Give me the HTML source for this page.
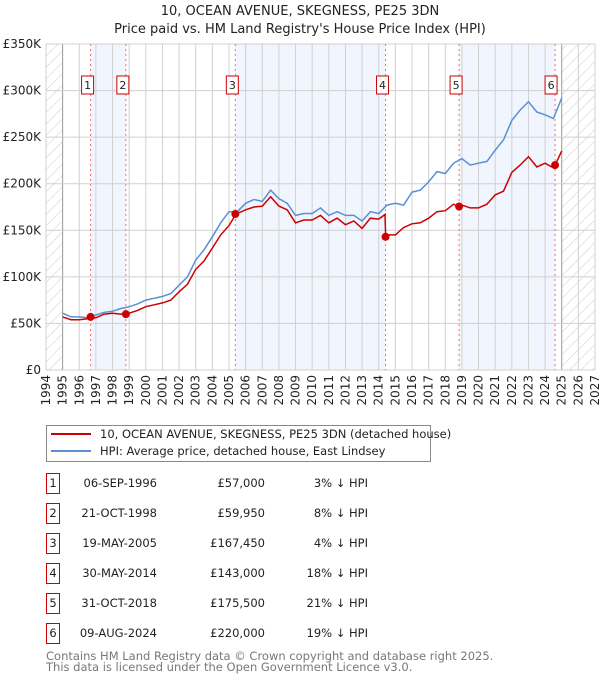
<!DOCTYPE html>
<html><head><meta charset="utf-8"><style>
body{margin:0;background:#fff;font-family:"DejaVu Sans","Liberation Sans",sans-serif;}
svg text{font-family:"DejaVu Sans","Liberation Sans",sans-serif;}
</style></head><body>
<svg id="chart" width="600" height="680" xmlns="http://www.w3.org/2000/svg">
<defs><pattern id="hatch" width="8" height="8" patternUnits="userSpaceOnUse" patternTransform="rotate(45)"><line x1="0" y1="0" x2="0" y2="8" stroke="#ccc" stroke-width="1"/></pattern></defs>
<text x="300" y="15" text-anchor="middle" font-size="13" fill="#222">10, OCEAN AVENUE, SKEGNESS, PE25 3DN</text>
<text x="300" y="33" text-anchor="middle" font-size="13" fill="#222">Price paid vs. HM Land Registry's House Price Index (HPI)</text>
<g id="plot"></g>
<g>
<rect x="46.5" y="425.5" width="384" height="36" fill="#fff" stroke="#888"/>
<line x1="51" y1="434" x2="91" y2="434" stroke="#cc0000" stroke-width="2"/>
<text x="100" y="438" font-size="11.5" fill="#222">10, OCEAN AVENUE, SKEGNESS, PE25 3DN (detached house)</text>
<line x1="51" y1="451" x2="91" y2="451" stroke="#5b8fd4" stroke-width="2"/>
<text x="100" y="455" font-size="11.5" fill="#222">HPI: Average price, detached house, East Lindsey</text>
</g>
<g id="table"></g>
<text x="46" y="660" font-size="11.5" fill="#777">Contains HM Land Registry data © Crown copyright and database right 2025.</text>
<text x="46" y="671" font-size="11.5" fill="#777">This data is licensed under the Open Government Licence v3.0.</text>
</svg>
<script>
const hpiYears=[1995,1995.5,1996,1996.5,1997,1997.5,1998,1998.5,1999,1999.5,2000,2000.5,2001,2001.5,2002,2002.5,2003,2003.5,2004,2004.5,2005,2005.5,2006,2006.5,2007,2007.5,2008,2008.5,2009,2009.5,2010,2010.5,2011,2011.5,2012,2012.5,2013,2013.5,2014,2014.5,2015,2015.5,2016,2016.5,2017,2017.5,2018,2018.5,2019,2019.5,2020,2020.5,2021,2021.5,2022,2022.5,2023,2023.5,2024,2024.5,2025];
const hpiValues=[61,57,57,56,59,62,63,66,68,71,75,77,79,82,91,100,118,129,143,158,170,170,179,183,181,193,184,179,166,168,168,174,166,170,166,166,160,170,168,177,179,177,191,193,202,213,211,222,227,220,222,224,236,247,268,279,288,277,274,270,292];
const redYears=[1995,1995.5,1996,1996.5,1997,1997.5,1998,1998.5,1999,1999.5,2000,2000.5,2001,2001.5,2002,2002.5,2003,2003.5,2004,2004.5,2005,2005.4,2005.5,2006,2006.5,2007,2007.5,2008,2008.5,2009,2009.5,2010,2010.5,2011,2011.5,2012,2012.5,2013,2013.5,2014,2014.38,2014.42,2014.5,2015,2015.5,2016,2016.5,2017,2017.5,2018,2018.5,2018.83,2019,2019.5,2020,2020.5,2021,2021.5,2022,2022.5,2023,2023.5,2024,2024.5,2024.6,2025];
const redValues=[57,54,54,55,56,60,61,60,61,64,68,70,72,75,84,92,108,117,131,145,155,167,168,172,175,176,186,176,172,158,161,161,166,158,163,156,160,152,163,162,167,143,145,145,153,157,158,163,170,171,178,175,177,174,174,178,188,192,212,220,229,218,222,217,220,235];
const saleYears=[1996.68,1998.8,2005.38,2014.41,2018.83,2024.6];
const saleLabels=["1","2","3","4","5","6"];
const saleDates=["06-SEP-1996","21-OCT-1998","19-MAY-2005","30-MAY-2014","31-OCT-2018","09-AUG-2024"];
const salePrices=[57000,59950,167450,143000,175500,220000];
const saleDiffs=["3% ↓ HPI","8% ↓ HPI","4% ↓ HPI","18% ↓ HPI","21% ↓ HPI","19% ↓ HPI"];
const yTicks=[0,50,100,150,200,250,300,350];
const xTicks=[1994,1995,1996,1997,1998,1999,2000,2001,2002,2003,2004,2005,2006,2007,2008,2009,2010,2011,2012,2013,2014,2015,2016,2017,2018,2019,2020,2021,2022,2023,2024,2025,2026,2027];

const L=46,R=595,T=44,B=370;
const x=v=>L+(v-1994)/(2027-1994)*(R-L);
const y=v=>B-v/350*(B-T);
const NS="http://www.w3.org/2000/svg";
const plot=document.getElementById('plot');
function mk(tag,attrs,parent){const e=document.createElementNS(NS,tag);for(const k in attrs)e.setAttribute(k,attrs[k]);(parent||plot).appendChild(e);return e;}

let h1=mk('rect',{x:L,y:T,width:x(1995)-L,height:B-T,fill:'url(#hatch)'});


let h2=mk('rect',{x:x(2025),y:T,width:R-x(2025),height:B-T,fill:'url(#hatch)'});


for(let i=0;i<saleYears.length;i+=2){
 let b=mk('rect',{x:x(saleYears[i]),y:T,width:x(saleYears[i+1])-x(saleYears[i]),height:B-T,fill:'#eef3fc',opacity:0.8});
 
 
}
xTicks.forEach(t=>{
 let g=mk('line',{x1:x(t),x2:x(t),y1:T,y2:B,stroke:(t==1995||t==2025)?'#999':'#d0d0d0','stroke-width':1});
 
 
 let tx=mk('text',{x:0,y:0,'font-size':12,fill:'#222','text-anchor':'end',transform:`translate(${x(t)+4},${B+5}) rotate(-90)`});
 tx.textContent=t;
 
 
});
yTicks.forEach(t=>{
 let g=mk('line',{x1:L,x2:R,y1:y(t),y2:y(t),stroke:'#d0d0d0','stroke-width':1});
 
 
 let tx=mk('text',{x:L-5,y:y(t)+4,'font-size':12,fill:'#222','text-anchor':'end'});
 tx.textContent=t==0?'£0':'£'+t+'K';
 
 
});
saleYears.forEach((s,i)=>{
 let l=mk('line',{x1:x(s),x2:x(s),y1:T,y2:B,stroke:'#f07070','stroke-width':1,'stroke-dasharray':'2,3'});
 
 
 let r=mk('rect',{x:x(s)-6-(i==5?4:3),y:76,width:12,height:18,fill:'#fff',stroke:'#cc0000'});
 
 
 let t=mk('text',{x:x(s)-(i==5?4:3),y:89,'font-size':11,'text-anchor':'middle',fill:'#222'});
 t.textContent=saleLabels[i];
 
 
});
function path(xs,vs){return xs.map((v,i)=>(i?'L':'M')+x(v).toFixed(1)+','+y(vs[i]).toFixed(1)).join('');}
let hp=mk('path',{d:path(hpiYears,hpiValues),fill:'none',stroke:'#5b8fd4','stroke-width':1.5});


let rp=mk('path',{d:path(redYears,redValues),fill:'none',stroke:'#cc0000','stroke-width':1.5});


saleYears.forEach((s,i)=>{
 let c=mk('circle',{cx:x(s),cy:y(salePrices[i]/1000),r:4,fill:'#cc0000'});
 
 
});
const tb=document.getElementById('table');
saleYears.forEach((s,i)=>{
 const yy=483+i*30;
 let r=mk('rect',{x:46.5,y:yy-9.5,width:13,height:20,fill:'#fff',stroke:'#cc0000'},tb);
 
 
 const cells=[[53,saleLabels[i],'middle'],[157,saleDates[i],'end'],[265,'£'+salePrices[i].toLocaleString('en-GB'),'end'],[368,saleDiffs[i],'end']];
 cells.forEach(c=>{
  let t=mk('text',{x:c[0],y:yy+4,'font-size':11.5,fill:'#222','text-anchor':c[2]},tb);
  t.textContent=c[1];
  
  
 });
});
</script>
</body></html>
